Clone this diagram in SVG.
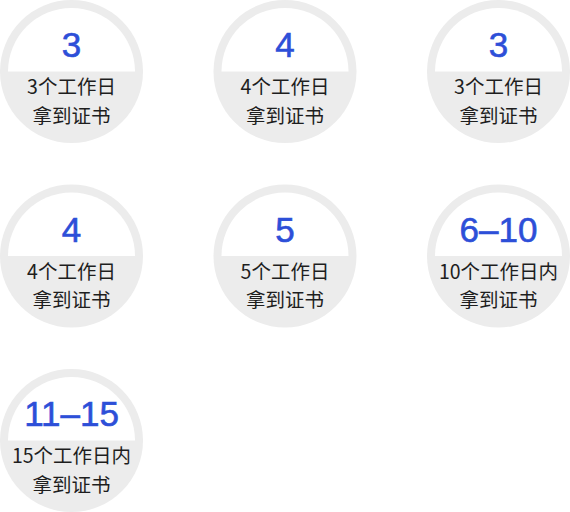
<svg xmlns="http://www.w3.org/2000/svg" xmlns:xlink="http://www.w3.org/1999/xlink" width="570" height="512" viewBox="0 0 570 512">
<style>
.bg{fill:#ececec}
.in{fill:#ffffff}
.num{font-family:"Liberation Sans",Arial,sans-serif;font-size:35px;fill:#2d4fd8;stroke:#2d4fd8;stroke-width:0.6px;text-anchor:middle}
.t{font-family:"Noto Sans CJK SC",sans-serif;font-size:19.5px;fill:#1e1e1e;text-anchor:middle}
</style>
<defs>
<g id="badge">
<circle class="bg" cx="0" cy="0" r="71.5"/>
<path class="in" d="M -63.5 0 A 63.5 63.5 0 0 1 63.5 0 Z"/>
</g>
</defs>
<g id="connectors"/>
<g id="n1" transform="translate(71.5,71.5)">
<use xlink:href="#badge"/>
<text class="num" x="0" y="-14.5">3</text>
<text class="t" x="0" y="22.5">3个工作日</text>
<text class="t" x="0" y="51">拿到证书</text>
</g>
<g id="n2" transform="translate(285,71.5)">
<use xlink:href="#badge"/>
<text class="num" x="0" y="-14.5">4</text>
<text class="t" x="0" y="22.5">4个工作日</text>
<text class="t" x="0" y="51">拿到证书</text>
</g>
<g id="n3" transform="translate(498.5,71.5)">
<use xlink:href="#badge"/>
<text class="num" x="0" y="-14.5">3</text>
<text class="t" x="0" y="22.5">3个工作日</text>
<text class="t" x="0" y="51">拿到证书</text>
</g>
<g id="n4" transform="translate(71.5,256)">
<use xlink:href="#badge"/>
<text class="num" x="0" y="-14.5">4</text>
<text class="t" x="0" y="22.5">4个工作日</text>
<text class="t" x="0" y="51">拿到证书</text>
</g>
<g id="n5" transform="translate(285,256)">
<use xlink:href="#badge"/>
<text class="num" x="0" y="-14.5">5</text>
<text class="t" x="0" y="22.5">5个工作日</text>
<text class="t" x="0" y="51">拿到证书</text>
</g>
<g id="n6" transform="translate(498.5,256)">
<use xlink:href="#badge"/>
<text class="num" x="0" y="-14.5">6–10</text>
<text class="t" x="0" y="22.5">10个工作日内</text>
<text class="t" x="0" y="51">拿到证书</text>
</g>
<g id="n7" transform="translate(71.5,440.5)">
<use xlink:href="#badge"/>
<text class="num" x="0" y="-14.5">11–15</text>
<text class="t" x="0" y="22.5">15个工作日内</text>
<text class="t" x="0" y="51">拿到证书</text>
</g>
</svg>
